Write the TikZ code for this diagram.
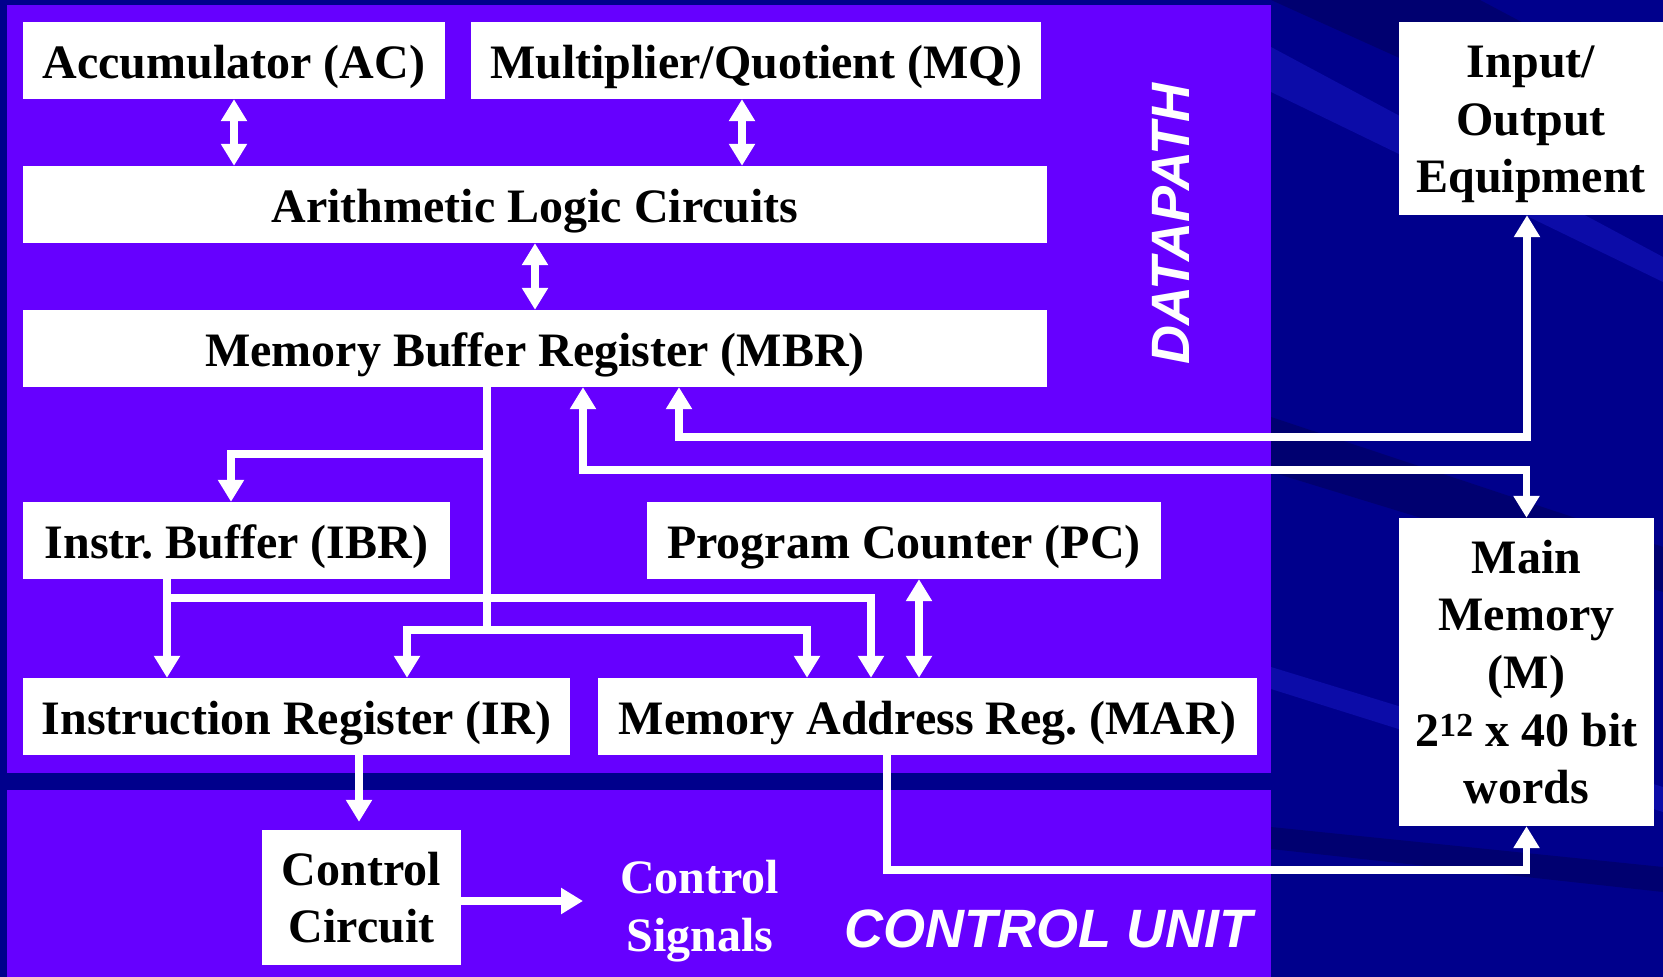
\documentclass[tikz,border=0pt]{standalone}
\usepackage{fontspec}
\setmainfont{Liberation Serif}
\newfontfamily\labelfont{Liberation Sans}
\usetikzlibrary{arrows.meta}

\definecolor{slidebg}{RGB}{0,0,140}
\definecolor{ribbon}{RGB}{12,12,168}
\definecolor{deepnavy}{RGB}{0,0,112}
\definecolor{panel}{RGB}{102,0,255}

\begin{document}
\begin{tikzpicture}[x=1pt, y=1pt,
    reg/.style={fill=white, inner sep=0pt, minimum height=77pt, align=center,
        font=\fontsize{48}{57.6}\selectfont\bfseries\frenchspacing},
    line/.style={reg, text height=36pt, text depth=0pt},
    wire/.style={draw=white, line width=7.5pt, -{Triangle[width=25pt,length=22pt]}},
    both/.style={wire, {Triangle[width=25pt,length=22pt]}-{Triangle[width=25pt,length=22pt]}},
    area/.style={text=white, inner sep=0pt, font=\fontsize{54}{60}\selectfont\labelfont\bfseries\itshape}]
    \useasboundingbox (0,0) rectangle (1663,977);

    % Background and panels
    \fill[slidebg] (0,0) rectangle (1663,977);
    \fill[deepnavy] (1271,977) -- (1480,977) -- (1663,880) -- (1663,800) -- cycle;
    \fill[ribbon] (1271,930) -- (1663,720) -- (1663,695) -- (1271,885) -- cycle;
    \fill[deepnavy] (1271,560) -- (1663,430) -- (1663,385) -- (1271,505) -- cycle;
    \fill[ribbon] (1271,310) -- (1663,190) -- (1663,165) -- (1271,288) -- cycle;
    \fill[deepnavy] (1271,150) -- (1663,110) -- (1663,85) -- (1271,128) -- cycle;
    \fill[panel] (7,204) rectangle (1271,972);
    \fill[panel] (7,0) rectangle (1271,187);

    % Nodes
    \node (ac) [line, minimum width=422pt] at (234,916.5) {Accumulator (AC)};
    \node (mq) [line, minimum width=570pt] at (756,916.5) {Multiplier/Quotient (MQ)};
    \node (alu) [line, minimum width=1024pt] at (535,772.5) {Arithmetic Logic Circuits};
    \node (mbr) [line, minimum width=1024pt] at (535,628.5) {Memory Buffer Register (MBR)};
    \node (ibr) [line, minimum width=427pt] at (236.5,436.5) {Instr. Buffer (IBR)};
    \node (pc) [line, minimum width=514pt] at (904,436.5) {Program Counter (PC)};
    \node (ir) [line, minimum width=547pt] at (296.5,260.5) {Instruction Register (IR)};
    \node (mar) [line, minimum width=659pt] at (927.5,260.5) {Memory Address Reg. (MAR)};
    \node (cc) [reg, minimum width=199pt, minimum height=135pt] at (361.5,79.5) {Control\\Circuit};
    \node (io) [reg, minimum width=264pt, minimum height=193pt] at (1531,858.5)
        {\rule{0pt}{44pt}Input/\\Output\\Equipment};
    \node (mm) [reg, minimum width=255pt, minimum height=308pt] at (1526.5,305)
        {Main\\Memory\\(M)\\2\textsuperscript{12} x 40 bit\\words};
    \node (sig) [reg, fill=none, text=white, anchor=west] at (620,66) {Control\\Signals};
    \node (dp) [area, rotate=90, anchor=base] at (1189,753) {DATAPATH};
    \node (cu) [area, anchor=base] at (1048.5,29) {CONTROL UNIT};

    % Arrows
    \draw[both] (ac.south) -- (ac.south |- alu.north);
    \draw[both] ([xshift=-14pt]mq.south) -- ([xshift=-14pt]mq.south |- alu.north);
    \draw[both] (alu.south) -- (mbr.north);
    \draw[wire] ([xshift=-48pt]mbr.south) -- ++(0,-67) -| ([xshift=-5.5pt]ibr.north);
    \draw[wire] ([xshift=-48pt]mbr.south) -- ++(0,-243) -| ([xshift=110.5pt]ir.north);
    \draw[wire] ([xshift=-48pt]mbr.south) -- ++(0,-243) -| ([xshift=-120.5pt]mar.north);
    \draw[wire] ([xshift=-69.5pt]ibr.south) -- ([xshift=-69.5pt]ibr.south |- ir.north);
    \draw[wire] ([xshift=-69.5pt]ibr.south) -- ++(0,-19) -| ([xshift=-56.5pt]mar.north);
    \draw[both] ([xshift=15pt]pc.south) -- ([xshift=15pt]pc.south |- mar.north);
    \draw[both] ([xshift=144pt]mbr.south) -- ++(0,-50) -| ([xshift=-4pt]io.south);
    \draw[both] ([xshift=48pt]mbr.south) -- ++(0,-83) -| (mm.north);
    \draw[wire] ([xshift=-40.5pt]mar.south) -- ++(0,-115) -| (mm.south);
    \draw[wire, shorten >=8pt] ([xshift=62.5pt]ir.south) -- ([xshift=62.5pt]ir.south |- cc.north);
    \draw[wire, shorten >=37pt] ([yshift=-3.5pt]cc.east) -- ([yshift=-3.5pt]cc.east -| sig.west);
\end{tikzpicture}
\end{document}
